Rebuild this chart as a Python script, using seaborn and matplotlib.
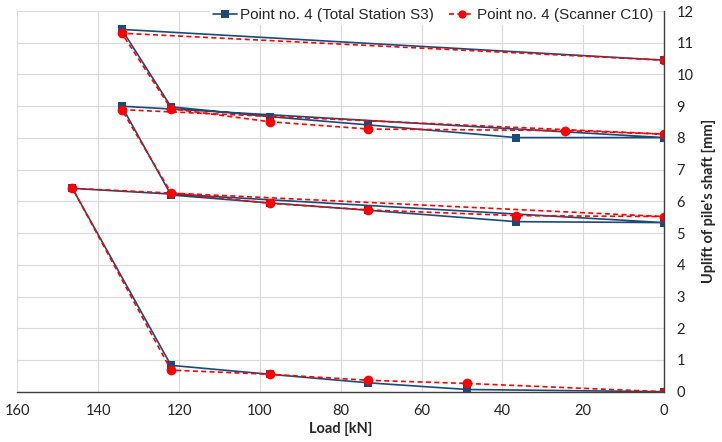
import pandas as pd
import matplotlib
matplotlib.use("Agg")
import matplotlib.pyplot as plt
import seaborn as sns

# data (load cycles in order)
series_names = ["Point no. 4 (Total Station S3)", "Point no. 4 (Scanner C10)"]

load_ts = [0, 48.8, 73.2, 97.6, 122, 146.4, 0, 36.6, 73.2, 97.6, 122, 134.2,
           0, 36.6, 73.2, 97.6, 122, 134.2, 0]
uplift_ts = [0, 0.07, 0.28, 0.55, 0.83, 6.41, 5.33, 5.36, 5.72, 5.95, 6.20, 9.00,
             8.01, 8.01, 8.41, 8.67, 8.98, 11.42, 10.45]

load_sc = [0, 48.8, 73.2, 97.6, 122, 146.4, 0, 36.6, 73.2, 97.6, 122, 134.2,
           0, 24.4, 73.2, 97.6, 122, 134.2, 0]
uplift_sc = [0, 0.26, 0.36, 0.55, 0.68, 6.41, 5.52, 5.55, 5.73, 5.94, 6.27, 8.89,
             8.12, 8.23, 8.28, 8.51, 8.92, 11.30, 10.45]

x_ticks = [0, 20, 40, 60, 80, 100, 120, 140, 160]
y_ticks = list(range(0, 13))

df = pd.concat([
    pd.DataFrame({"Load": load_ts, "Uplift": uplift_ts, "Series": series_names[0]}),
    pd.DataFrame({"Load": load_sc, "Uplift": uplift_sc, "Series": series_names[1]}),
], ignore_index=True)

sns.set_style("white")
plt.rcParams["font.family"] = ["Lato", "DejaVu Sans"]

fig = plt.figure(figsize=(7.22, 4.42), dpi=100)
ax = fig.add_axes([0.0242, 0.1138, 0.8955, 0.8613])

blue = "#1B4A7A"
red = "#FF0000"

sns.lineplot(data=df, x="Load", y="Uplift", hue="Series", style="Series",
             sort=False, estimator=None, ax=ax,
             palette={series_names[0]: blue, series_names[1]: red},
             markers={series_names[0]: "s", series_names[1]: "o"},
             dashes={series_names[0]: "", series_names[1]: (3, 2)},
             linewidth=1.2, markeredgewidth=0)

for line in ax.lines:
    if line.get_marker() == "s":
        line.set_markersize(6)
    elif line.get_marker() == "o":
        line.set_markersize(7)

ax.set_xlim(160, 0)
ax.set_ylim(0, 12)
ax.set_xticks(x_ticks)
ax.set_yticks(y_ticks)
ax.grid(True, color="#D9D9D9", linewidth=0.8)
ax.set_axisbelow(True)

ax.yaxis.tick_right()
ax.yaxis.set_label_position("right")
ax.tick_params(axis="both", length=0, labelsize=10.5, colors="#222222")
ax.tick_params(axis="y", pad=9)
ax.tick_params(axis="x", pad=9)

for side in ["top", "left"]:
    ax.spines[side].set_visible(False)
for side in ["bottom", "right"]:
    ax.spines[side].set_color("#404040")
    ax.spines[side].set_linewidth(1.0)

ax.set_xlabel("Load [kN]", fontsize=10.5, fontweight="bold", labelpad=3)
ax.set_ylabel("Uplift of pile's shaft [mm]", fontsize=10.5, fontweight="bold", labelpad=6)

leg = ax.legend(loc="upper right", bbox_to_anchor=(1.0, 1.035), ncol=2,
                frameon=True, fancybox=False, framealpha=1, edgecolor="none",
                facecolor="white", handlelength=1.6, handletextpad=0.2,
                columnspacing=1.0, borderpad=0.2,
                prop={"family": "Liberation Sans", "size": 11})
for h in leg.legend_handles:
    h.set_markersize(6)

fig.savefig("out.png", dpi=100)
